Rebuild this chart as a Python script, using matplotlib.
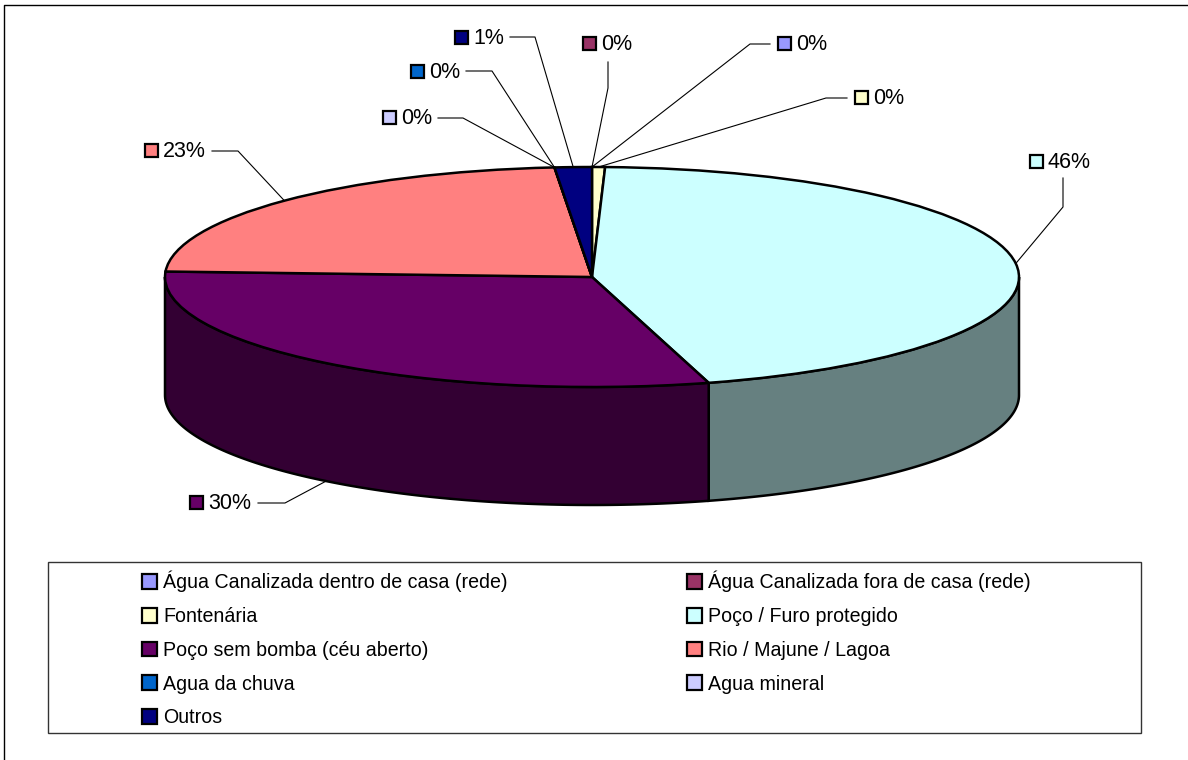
import numpy as np
import matplotlib
matplotlib.use('Agg')
import matplotlib.pyplot as plt
from matplotlib.patches import Patch, Polygon, Rectangle
from matplotlib.transforms import Affine2D

plt.rcParams['font.family'] = ['Liberation Sans', 'DejaVu Sans']

# DATA
categories = ['Água Canalizada dentro de casa (rede)', 'Água Canalizada fora de casa (rede)',
              'Fontenária', 'Poço / Furo protegido', 'Poço sem bomba (céu aberto)',
              'Rio / Majune / Lagoa', 'Agua da chuva', 'Agua mineral', 'Outros']
values = [0.0, 0.0, 0.49, 45.1, 30.2, 22.8, 0.0, 0.0, 1.4]
pct_labels = ['0%', '0%', '0%', '46%', '30%', '23%', '0%', '0%', '1%']
colors = ['#9999FF', '#993366', '#FFFFCC', '#CCFFFF', '#660066', '#FF8080', '#0066CC', '#CCCCFF', '#000080']

W, H = 1188, 760
# pie geometry in pixels
cx, cy, rx, ry, depth = 592, 277, 427, 110, 118
# label layout: swatch x, swatch y, elbow x, elbow y, line start x
label_pos = [(784, 43, 750, 44, 770), (589, 43, 608, 88, 608), (861, 97, 826, 98, 847),
             (1036, 161, 1063, 207, 1063), (196, 502, 285, 503, 258), (151, 150, 238, 151, 212),
             (417, 71, 492, 71, 466), (389, 117, 463, 118, 438), (461, 37, 535, 37, 510)]
label_start_y = [44, 62, 98, 178, 503, 151, 71, 118, 37]


def py(y):
    return H - y


fig = plt.figure(figsize=(W/100, H/100), dpi=100)
ax = fig.add_axes([0, 0, 1, 1])

# top face
wedges, _ = ax.pie(values, colors=colors, startangle=90, counterclock=False,
                   wedgeprops={'edgecolor': 'black', 'linewidth': 1.8})
squash = Affine2D().scale(rx, ry).translate(cx, py(cy))
for w in wedges:
    w.set_transform(squash + ax.transData)
    w.set_zorder(3)
ax.set_aspect('auto')
ax.set_xlim(0, W)
ax.set_ylim(0, H)
ax.axis('off')

# angles clockwise from top
fracs = np.array(values) / sum(values)
ends = np.cumsum(fracs) * 2 * np.pi
starts = ends - fracs * 2 * np.pi

# side walls, only the front half of the ellipse shows
for a0, a1, col in zip(starts, ends, colors):
    lo, hi = max(a0, np.pi/2), min(a1, 3*np.pi/2)
    if hi <= lo:
        continue
    t = np.linspace(lo, hi, 120)
    x = cx + rx*np.sin(t)
    y = py(cy) + ry*np.cos(t)
    pts = np.r_[np.c_[x, y], np.c_[x[::-1], y[::-1] - depth]]
    rgb = np.array(matplotlib.colors.to_rgb(col)) * 0.5
    ax.add_patch(Polygon(pts, closed=True, facecolor=rgb, edgecolor='black', linewidth=1.8, zorder=2))

# data labels with leader lines
mids = (starts + ends) / 2
for i, (sx, sy, ex, ey, lx) in enumerate(label_pos):
    ax_x = cx + rx*np.sin(mids[i])
    ax_y = cy - ry*np.cos(mids[i])
    if np.pi/2 < mids[i] < 3*np.pi/2 and values[i] > 20 and mids[i] > np.pi:
        ax_y += depth
    ax.plot([lx, ex, ax_x], [py(label_start_y[i]), py(ey), py(ax_y)], color='black', lw=0.8, zorder=4)
    ax.add_patch(Rectangle((sx-6.5, py(sy)-6.5), 13, 13, facecolor=colors[i], edgecolor='black', lw=1.6, zorder=5))
    ax.text(sx+12, py(sy)+1, pct_labels[i], fontsize=15.5, va='center_baseline', ha='left', color='black', zorder=5)

# outer frame, only left and top are visible
ax.plot([4, 4, W], [0, py(5), py(5)], color='black', lw=1.0, zorder=1)

# legend box
ax.add_patch(Rectangle((48, py(733)), 1093, 171, facecolor='white', edgecolor='#333333', lw=1.0, zorder=1))
order = [0, 2, 4, 6, 8, 1, 3, 5, 7]
handles = [Patch(facecolor=colors[i], edgecolor='black', linewidth=1.6, label=categories[i]) for i in order]
ax.legend(handles=handles, ncol=2, frameon=False, loc='upper left', bbox_to_anchor=(142, py(571)),
          bbox_transform=ax.transData, fontsize=14.1, handlelength=0.78, handleheight=0.78,
          handletextpad=0.3, labelspacing=0.75, columnspacing=9.15, borderpad=0, borderaxespad=0)

fig.savefig('out.png', dpi=100)
